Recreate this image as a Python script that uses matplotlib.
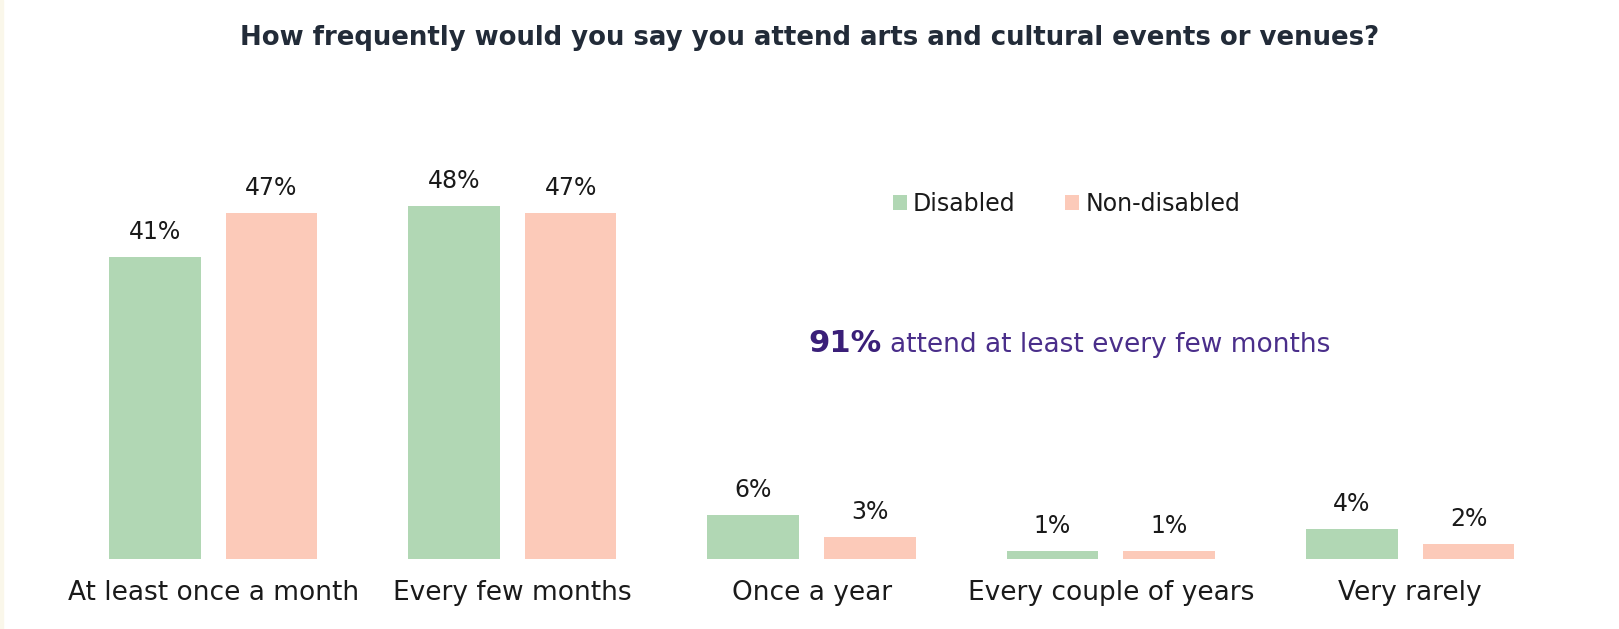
import matplotlib.pyplot as plt
from matplotlib.patches import Rectangle
import numpy as np

categories = ['At least once a month', 'Every few months', 'Once a year',
              'Every couple of years', 'Very rarely']
disabled = [41, 48, 6, 1, 4]
non_disabled = [47, 47, 3, 1, 2]
series_names = ['Disabled', 'Non-disabled']

GREEN = '#b1d7b4'
PEACH = '#fccab9'
INK = '#1a1a1a'
NAVY = '#222b38'
PURPLE = '#3a1f78'

plt.rcParams['font.family'] = ['DejaVu Sans']


def draw_bars(ax):
    x = np.arange(len(categories))
    width = 0.306
    offset = 0.195
    for vals, dx, color, name in [(disabled, -offset, GREEN, series_names[0]),
                                  (non_disabled, offset, PEACH, series_names[1])]:
        b = ax.bar(x + dx, vals, width, color=color, label=name)
        for rect, v in zip(b, vals):
            ax.annotate(f'{v}%', (rect.get_x() + rect.get_width() / 2, v),
                        xytext=(0, 13), textcoords='offset points',
                        ha='center', va='baseline', fontsize=17, color=INK)
    return x


def main():
    fig = plt.figure(figsize=(16.19, 6.29), dpi=100)
    ax = fig.add_axes([0.0392, 0.1118, 0.9242, 0.7011])

    x = draw_bars(ax)
    ax.set_xlim(-0.5, 4.5)
    ax.set_ylim(0, 60)
    ax.set_xticks(x)
    ax.set_xticklabels(categories, fontsize=19, color=INK)
    ax.tick_params(axis='x', length=0, pad=15)
    ax.set_yticks([])
    for s in ax.spines.values():
        s.set_visible(False)

    ax.legend(loc='center', bbox_to_anchor=(0.6588, 0.6757),
              bbox_transform=fig.transFigure, ncol=2, frameon=False,
              fontsize=17, handlelength=0.6, handleheight=0.6,
              handletextpad=0.25, columnspacing=2.1, borderpad=0,
              labelcolor=INK)

    fig.text(0.5, 1 - 38 / 629,
             'How frequently would you say you attend arts and cultural events or venues?',
             ha='center', va='center', fontsize=18.7, fontweight='bold', color=NAVY)

    fig.text(808 / 1619, 0.4409, '91%', ha='left', va='baseline',
             fontsize=22, fontweight='bold', color=PURPLE)
    fig.text(890 / 1619, 0.4409, 'attend at least every few months',
             ha='left', va='baseline', fontsize=19, color='#4a2e8a')

    # thin cream strip down the left edge
    fig.patches.append(Rectangle((0, 0), 3 / 1619, 1, transform=fig.transFigure,
                                 color='#faf7ea', zorder=0))

    fig.savefig('out.png', dpi=100)


if __name__ == '__main__':
    main()
